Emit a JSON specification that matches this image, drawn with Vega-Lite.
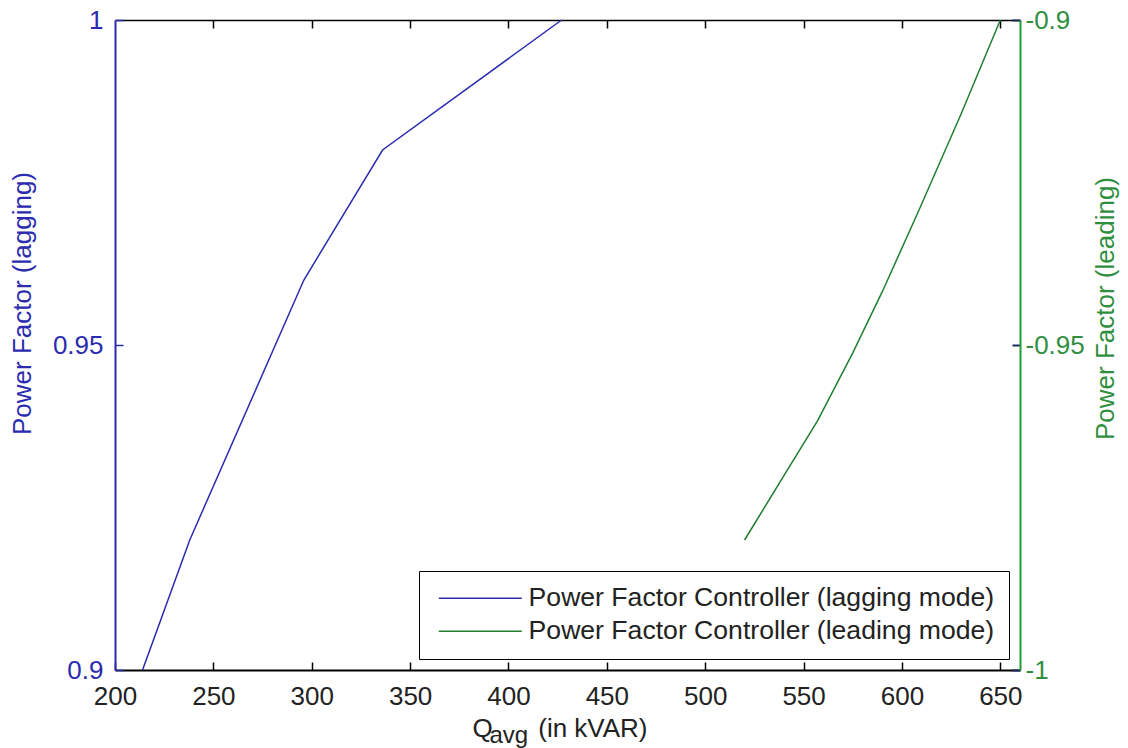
{
  "$schema": "https://vega.github.io/schema/vega-lite/v6.json",
  "width": 905,
  "height": 650,
  "autosize": "none",
  "padding": {"left": 115, "top": 20, "right": 108, "bottom": 78},
  "background": "white",
  "config": {
    "view": {"stroke": null},
    "font": "Liberation Sans",
    "axis": {"grid": false, "labelFont": "Liberation Sans", "titleFont": "Liberation Sans", "titleFontWeight": "normal", "labelFlush": false},
    "legend": {
      "orient": "bottom-right",
      "offset": 11,
      "symbolType": "M-4.15,0H4.15",
      "symbolSize": 400,
      "symbolStrokeWidth": 1.5,
      "symbolOffset": 34,
      "labelOffset": 35,
      "labelFont": "Liberation Sans",
      "labelFontSize": 26.6,
      "labelColor": "#222222",
      "labelLimit": 700,
      "strokeColor": "black",
      "fillColor": "white",
      "padding": 14,
      "rowPadding": 6
    }
  },
  "datasets": {
    "lag": [
      {"q": 214, "pf": 0.9, "series": "Power Factor Controller (lagging mode)"},
      {"q": 238, "pf": 0.92, "series": "Power Factor Controller (lagging mode)"},
      {"q": 296, "pf": 0.96, "series": "Power Factor Controller (lagging mode)"},
      {"q": 336, "pf": 0.98, "series": "Power Factor Controller (lagging mode)"},
      {"q": 427, "pf": 1.0, "series": "Power Factor Controller (lagging mode)"}
    ],
    "lead": [
      {"q": 520, "pf": -0.98, "series": "Power Factor Controller (leading mode)"},
      {"q": 540, "pf": -0.9701, "series": "Power Factor Controller (leading mode)"},
      {"q": 557, "pf": -0.9617, "series": "Power Factor Controller (leading mode)"},
      {"q": 575, "pf": -0.9512, "series": "Power Factor Controller (leading mode)"},
      {"q": 590, "pf": -0.9418, "series": "Power Factor Controller (leading mode)"},
      {"q": 608, "pf": -0.9297, "series": "Power Factor Controller (leading mode)"},
      {"q": 630, "pf": -0.9145, "series": "Power Factor Controller (leading mode)"},
      {"q": 650, "pf": -0.9, "series": "Power Factor Controller (leading mode)"}
    ]
  },
  "layer": [
    {
      "data": {"name": "lag"},
      "mark": {"type": "line", "strokeWidth": 1.5},
      "encoding": {
        "x": {
          "field": "q", "type": "quantitative",
          "scale": {"domain": [200, 660], "nice": false, "zero": false},
          "axis": {
            "orient": "bottom",
            "values": [200, 250, 300, 350, 400, 450, 500, 550, 600, 650],
            "format": "d",
            "domainColor": "black", "domainWidth": 2,
            "tickColor": "black", "tickSize": -8, "tickWidth": 1.5,
            "labelColor": "#222222", "labelFontSize": 26, "labelPadding": 21,
            "title": "Q\u2003\u2002\u2005(in kVAR)", "titleFontSize": 26, "titleColor": "#222222",
            "titleX": 357, "titleY": 66, "titleAlign": "left", "titleBaseline": "alphabetic"
          }
        },
        "y": {
          "field": "pf", "type": "quantitative",
          "scale": {"domain": [0.9, 1], "nice": false, "zero": false},
          "axis": {
            "orient": "left",
            "values": [0.9, 0.95, 1],
            "labelExpr": "'' + datum.value",
            "domainColor": "#2b2bb0", "domainWidth": 2,
            "tickColor": "#2b2bb0", "tickSize": -8, "tickWidth": 1.5,
            "labelColor": "#2b2bb0", "labelFontSize": 26, "labelPadding": 20,
            "title": "Power Factor (lagging)", "titleColor": "#2b2bb0", "titleFontSize": 26,
            "titleAngle": 270, "titleX": -93, "titleY": 283, "titleAlign": "center", "titleBaseline": "middle"
          }
        },
        "color": {
          "field": "series", "type": "nominal",
          "scale": {
            "domain": ["Power Factor Controller (lagging mode)", "Power Factor Controller (leading mode)"],
            "range": ["#2b2bb0", "#1f7f2f"]
          },
          "legend": {"title": null}
        }
      }
    },
    {
      "data": {"name": "lead"},
      "mark": {"type": "line", "strokeWidth": 1.5},
      "encoding": {
        "x": {
          "field": "q", "type": "quantitative",
          "axis": {
            "orient": "top",
            "values": [250, 300, 350, 400, 450, 500, 550, 600, 650],
            "labels": false,
            "domainColor": "black", "domainWidth": 1.5,
            "tickColor": "black", "tickSize": -8, "tickWidth": 1.5,
            "title": "avg", "titleFontSize": 24, "titleColor": "#222222",
            "titleX": 374, "titleY": 722, "titleAlign": "left", "titleBaseline": "alphabetic"
          }
        },
        "y": {
          "field": "pf", "type": "quantitative",
          "scale": {"domain": [-1, -0.9], "nice": false, "zero": false},
          "axis": {
            "orient": "right",
            "values": [-1, -0.95, -0.9],
            "labelExpr": "'' + datum.value",
            "domainColor": "#239b33", "domainWidth": 2,
            "tickColor": "#1a2a5a", "tickSize": -8, "tickWidth": 2,
            "labelColor": "#2f8f3f", "labelFontSize": 26, "labelPadding": 13,
            "title": "Power Factor (leading)", "titleColor": "#2f8f3f", "titleFontSize": 26,
            "titleAngle": 270, "titleX": 85, "titleY": 288, "titleAlign": "center", "titleBaseline": "middle"
          }
        },
        "color": {"field": "series", "type": "nominal"}
      }
    }
  ],
  "resolve": {"scale": {"y": "independent"}, "axis": {"x": "independent", "y": "independent"}}
}
